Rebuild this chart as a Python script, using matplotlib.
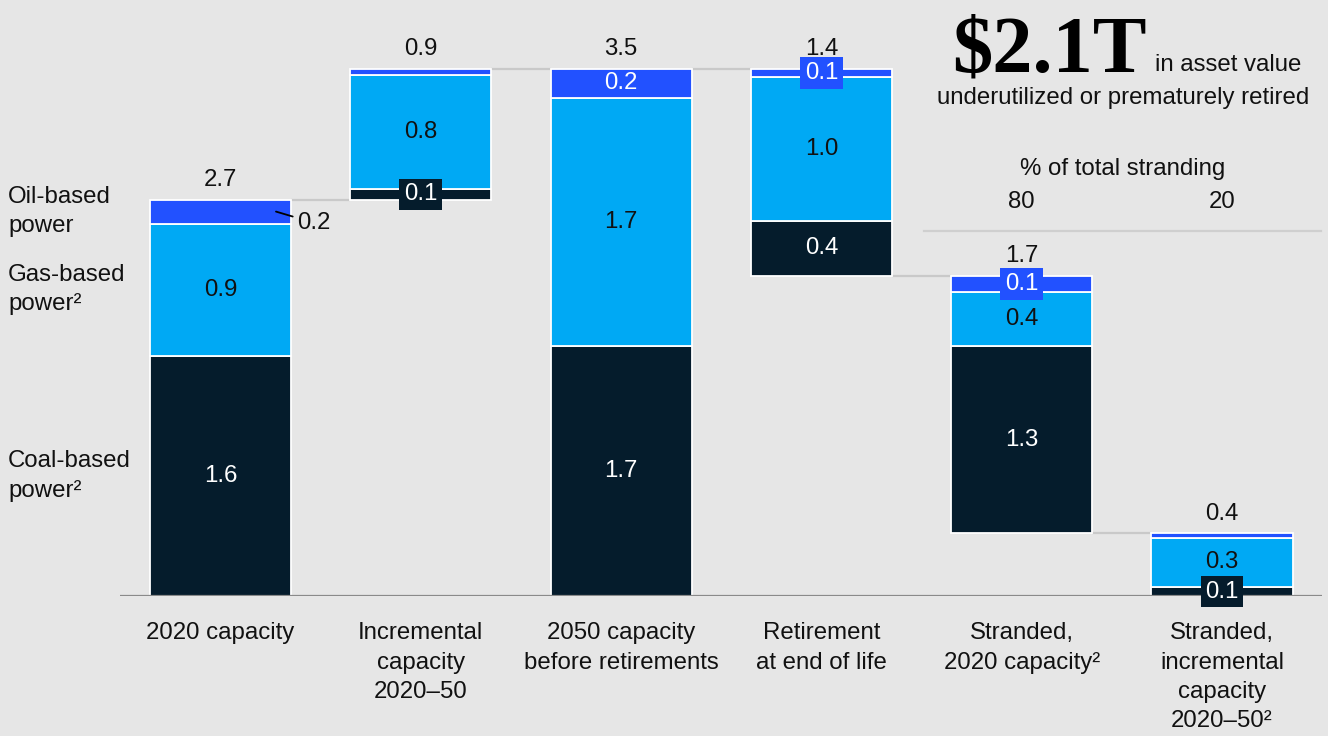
import matplotlib
matplotlib.use("Agg")
import matplotlib.pyplot as plt
import matplotlib.transforms as mtransforms
import numpy as np

# data ($ trillion)
categories = ["2020 capacity", "Incremental\ncapacity\n2020\u201350", "2050 capacity\nbefore retirements",
              "Retirement\nat end of life", "Stranded,\n2020 capacity\u00b2",
              "Stranded,\nincremental\ncapacity\n2020\u201350\u00b2"]
steps = ["total", "up", "total", "down", "down", "down"]
coal = [1.61, 0.07, 1.68, 0.37, 1.26, 0.06]
gas = [0.89, 0.77, 1.66, 0.96, 0.36, 0.33]
oil = [0.16, 0.04, 0.20, 0.06, 0.11, 0.03]
series_names = ["Coal-based\npower\u00b2", "Gas-based\npower\u00b2", "Oil-based\npower"]
stranding_share = [80, 20]
headline = "$2.1T"

# how each segment value is labelled
coal_mode = ["in", "box", "in", "in", "in", "box"]
gas_mode = ["in"] * 6
oil_mode = ["out", None, "in", "box", "box", None]

NAVY = "#051c2c"
CYAN = "#00a9f4"
BLUE = "#2251ff"
BG = "#e6e6e6"
TXT = "#111111"
FONT = "Liberation Sans"
FS = 17.3
LS = 1.42

W, H = 1328, 736
fig = plt.figure(figsize=(W / 100, H / 100), dpi=100, facecolor=BG)
ax = fig.add_axes([120.35 / W, 140 / H, 1201.8 / W, 596 / H])
ax.set_xlim(-0.5, 5.5)
ax.set_ylim(0, 4.0)
ax.axis("off")

def px(x, y):
    return x / W, 1 - y / H

totals = np.array(coal) + np.array(gas) + np.array(oil)
bottoms = []
levels = []
level = 0.0
for kind, t in zip(steps, totals):
    if kind == "total":
        b = 0.0
        level = t
    elif kind == "up":
        b = level
        level += t
    else:
        level -= t
        b = level
    bottoms.append(b)
    levels.append(level)

x = np.arange(len(categories))
width = 0.704
series = [(coal, NAVY, coal_mode, "white"), (gas, CYAN, gas_mode, TXT),
          (oil, BLUE, oil_mode, "white")]

base = np.array(bottoms)
mids = []
for vals, color, modes, tcol in series:
    vals = np.array(vals)
    ax.bar(x, vals, width, bottom=base, color=color, edgecolor="white", linewidth=1.3, zorder=3)
    mid = base + vals / 2
    mids.append(mid)
    for i in range(len(x)):
        m = modes[i]
        lab = f"{vals[i]:.1f}"
        if m == "in":
            ax.text(x[i], mid[i], lab, ha="center", va="center", color=tcol,
                    fontsize=FS, family=FONT, zorder=5)
        elif m == "box":
            ax.text(x[i], mid[i], lab, ha="center", va="center", color="white",
                    fontsize=FS, family=FONT, zorder=5,
                    bbox=dict(boxstyle="square,pad=0.2", fc=color, ec="none"))
        elif m == "out":
            ax.annotate(lab, xy=(x[i] + 0.277, mid[i]), xytext=(15, -8),
                        textcoords="offset points", ha="left", va="center",
                        fontsize=FS, family=FONT, color=TXT, zorder=5,
                        arrowprops=dict(arrowstyle="-", color="black", lw=1.3,
                                        shrinkA=1, shrinkB=0))
    base = base + vals

# totals above bars
for i in range(len(x)):
    ax.annotate(f"{totals[i]:.1f}", xy=(x[i], bottoms[i] + totals[i]), xytext=(0, 14),
                textcoords="offset points", ha="center", va="center",
                fontsize=FS, family=FONT, color=TXT)

# connectors
for i in range(len(x) - 1):
    ax.plot([x[i] + width / 2, x[i + 1] - width / 2], [levels[i], levels[i]],
            color="#c9c9c9", lw=1.6, zorder=1, solid_capstyle="butt")

ax.axhline(0, color="#8a8a8a", lw=1.6, zorder=4)

# category labels
for i, c in enumerate(categories):
    ax.annotate(c, xy=(x[i], 0), xytext=(0, -19), textcoords="offset points",
                ha="center", va="top", fontsize=FS, family=FONT, color=TXT,
                linespacing=LS)

# series labels on the left, aligned with first bar
tr = mtransforms.blended_transform_factory(fig.transFigure, ax.transData)
for name, mid in zip(series_names, mids):
    ax.text(8 / W, mid[0], name, transform=tr, ha="left", va="center",
            fontsize=FS, family=FONT, color=TXT, linespacing=LS)

# headline block
fig.text(*px(1147, 71), headline, ha="right", va="baseline", fontsize=58,
         family="Liberation Serif", weight="bold", color="black")
fig.text(*px(1155, 71), "in asset value", ha="left", va="baseline",
         fontsize=FS, family=FONT, color=TXT)
fig.text(*px(1123, 98), "underutilized or prematurely retired", ha="center", va="center",
         fontsize=FS, family=FONT, color=TXT)
fig.text(*px(1123, 169), "% of total stranding", ha="center", va="center",
         fontsize=FS, family=FONT, color=TXT)
for i, s in zip([4, 5], stranding_share):
    xf = (120.35 + (i + 0.5) * 200.3) / W
    fig.text(xf, 1 - 202 / H, str(s), ha="center", va="center",
             fontsize=FS, family=FONT, color=TXT)
fig.add_artist(plt.Line2D([924 / W, 1321 / W], [1 - 231 / H, 1 - 231 / H],
                          color="#cfcfcf", lw=1.6))

fig.savefig("out.png", dpi=100, facecolor=BG)
